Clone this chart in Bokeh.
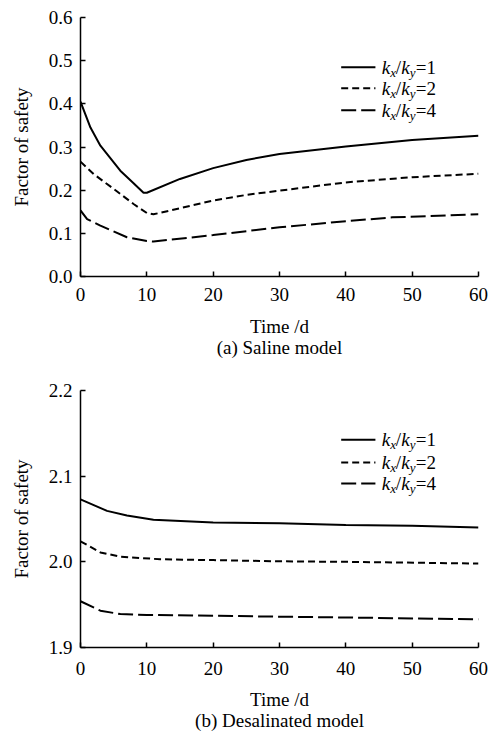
from bokeh.plotting import figure
from bokeh.layouts import column
from bokeh.models import Label, FixedTicker, NumeralTickFormatter, Range1d
from bokeh.embed import file_html
from bokeh.resources import INLINE

# ---- data: (a) Saline model ----
a_t1 = [0, 1.5, 3, 6, 8, 9.5, 10, 15, 20, 25, 30, 40, 50, 60]
a_fs1 = [0.405, 0.345, 0.303, 0.245, 0.216, 0.194, 0.194, 0.226, 0.251, 0.270, 0.284, 0.301, 0.316, 0.326]
a_t2 = [0, 2, 5, 8, 10, 11, 20, 25, 30, 40, 50, 60]
a_fs2 = [0.266, 0.237, 0.203, 0.168, 0.147, 0.144, 0.176, 0.189, 0.199, 0.218, 0.230, 0.238]
a_t4 = [0, 1, 3, 7, 10, 11, 20, 30, 40, 47, 60]
a_fs4 = [0.153, 0.133, 0.118, 0.091, 0.082, 0.081, 0.096, 0.114, 0.128, 0.137, 0.144]

# ---- data: (b) Desalinated model ----
b_t1 = [0, 4, 7, 11, 20, 30, 40, 50, 60]
b_fs1 = [2.073, 2.0595, 2.054, 2.049, 2.046, 2.045, 2.043, 2.042, 2.040]
b_t2 = [0, 3, 6, 12, 20, 30, 40, 60]
b_fs2 = [2.024, 2.011, 2.006, 2.003, 2.002, 2.0006, 2.000, 1.998]
b_t4 = [0, 3, 6, 10, 20, 30, 40, 60]
b_fs4 = [1.954, 1.943, 1.939, 1.938, 1.937, 1.936, 1.935, 1.933]

x_ticks = [0, 10, 20, 30, 40, 50, 60]
a_y_ticks = [0.0, 0.1, 0.2, 0.3, 0.4, 0.5, 0.6]
b_y_ticks = [1.9, 2.0, 2.1, 2.2]
ratios = ["1", "2", "4"]
dashes = ["solid", "7 4", "15 5"]
x_label = "Time /d"
y_label = "Factor of safety"

FONT = "Liberation Serif"
FS = "19px"


def make_plot(title, t_list, fs_list, yticks, height, top, bottom, tick_standoff, label_standoff, rows):
    p = figure(width=491, height=height, output_backend="svg", toolbar_location=None,
               x_range=Range1d(x_ticks[0], x_ticks[-1]),
               y_range=Range1d(yticks[0], yticks[-1]),
               min_border_left=80, min_border_right=13,
               min_border_top=top, min_border_bottom=bottom)
    p.outline_line_color = None
    p.grid.visible = False
    p.background_fill_color = "white"
    p.border_fill_color = "white"
    for ax in (p.xaxis[0], p.yaxis[0]):
        ax.major_tick_in = 5
        ax.major_tick_out = 0
        ax.minor_tick_in = 0
        ax.minor_tick_out = 0
        ax.axis_line_width = 1.5
        ax.major_tick_line_width = 1.5
        ax.axis_line_color = "black"
        ax.major_tick_line_color = "black"
        ax.major_label_text_font = FONT
        ax.major_label_text_font_size = FS
        ax.major_label_text_color = "black"
        ax.axis_label_text_font = FONT
        ax.axis_label_text_font_size = FS
        ax.axis_label_text_font_style = "normal"
        ax.axis_label_text_color = "black"
    p.xaxis.ticker = FixedTicker(ticks=x_ticks)
    p.yaxis.ticker = FixedTicker(ticks=yticks)
    p.yaxis.formatter = NumeralTickFormatter(format="0.0")
    p.xaxis.axis_label = x_label + "\n" + title
    p.xaxis.axis_label_text_line_height = 1.0
    p.yaxis.axis_label = y_label
    p.xaxis.major_label_standoff = tick_standoff
    p.xaxis.axis_label_standoff = label_standoff
    p.yaxis.major_label_standoff = 8
    p.yaxis.axis_label_standoff = 14

    for t, fs, d in zip(t_list, fs_list, dashes):
        p.line(t, fs, line_color="black", line_width=2, line_dash=d)

    # legend (drawn manually to allow subscripts)
    x0, x1 = x_ticks[0], x_ticks[-1]
    y0, y1 = yticks[0], yticks[-1]
    lx0 = x0 + 0.655 * (x1 - x0)
    lx1 = x0 + 0.741 * (x1 - x0)
    tx = x0 + 0.757 * (x1 - x0)
    for r, ratio, d in zip(rows, ratios, dashes):
        yy = y0 + r * (y1 - y0)
        p.line([lx0, lx1], [yy, yy], line_color="black", line_width=2, line_dash=d)
        pieces = [("k", 0, "italic", "19px", 0),
                  ("x", 8.4, "italic", "13px", -5),
                  ("/", 14.0, "normal", "19px", 0),
                  ("k", 19.5, "italic", "19px", 0),
                  ("y", 28.0, "italic", "13px", -5),
                  ("=" + ratio, 34.0, "normal", "19px", 0)]
        for txt, off, style, size, yoff in pieces:
            p.add_layout(Label(x=tx, y=yy, x_offset=off, y_offset=yoff, text=txt,
                               text_font=FONT, text_font_style=style, text_font_size=size,
                               text_baseline="middle", text_align="left", text_color="black"))
    return p


p1 = make_plot("(a) Saline model", [a_t1, a_t2, a_t4], [a_fs1, a_fs2, a_fs4],
               a_y_ticks, 368, 17, 92, 11, 12, [0.808, 0.727, 0.642])
p2 = make_plot("(b) Desalinated model", [b_t1, b_t2, b_t4], [b_fs1, b_fs2, b_fs4],
               b_y_ticks, 365, 22, 84, 14, 11, [0.808, 0.72, 0.638])

layout = column(p1, p2, spacing=0)
open("out.html", "w").write(file_html(layout, INLINE))
